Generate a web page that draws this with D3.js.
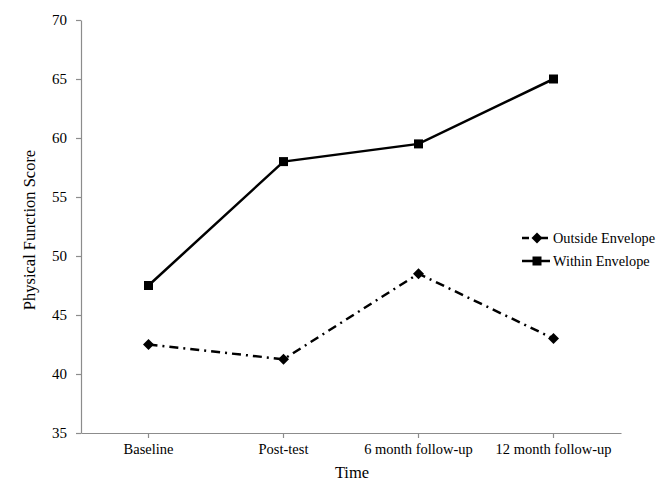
<!DOCTYPE html>
<html>
<head>
<meta charset="utf-8">
<script src="https://cdn.jsdelivr.net/npm/d3@7"></script>
<style>
  body { margin: 0; background: #fff; }
  text { font-family: "Liberation Serif", "Times New Roman", serif; fill: #000; }
</style>
</head>
<body>
<div class="chart"></div>
<script>
var categories = ["Baseline", "Post-test", "6 month follow-up", "12 month follow-up"];
var outsideValues = [42.5, 41.25, 48.5, 43];
var withinValues = [47.5, 58, 59.5, 65];
var yTicks = [35, 40, 45, 50, 55, 60, 65, 70];

var svgWidth = 667;
var svgHeight = 495;
var margin = {top: 20, right: 46, bottom: 62, left: 81};
var width = svgWidth - margin.left - margin.right;
var height = svgHeight - margin.top - margin.bottom;

var svg = d3.select(".chart")
  .append("svg")
  .attr("width", svgWidth)
  .attr("height", svgHeight);

var chartGroup = svg.append("g")
  .attr("transform", `translate(${margin.left},${margin.top})`);

var xScale = d3.scaleBand()
  .domain(categories)
  .range([0, width]);

var yScale = d3.scaleLinear()
  .domain([35, 70])
  .range([height, 0]);

var xc = d => xScale(d) + xScale.bandwidth() / 2;

// axes
var bottomAxis = d3.axisBottom(xScale).tickSize(5).tickPadding(6).tickSizeOuter(0);
var leftAxis = d3.axisLeft(yScale).tickValues(yTicks).tickSize(5).tickPadding(9).tickSizeOuter(0);

var xAxisG = chartGroup.append("g")
  .attr("transform", `translate(0, ${height})`)
  .call(bottomAxis);

var yAxisG = chartGroup.append("g")
  .call(leftAxis);

[xAxisG, yAxisG].forEach(function(g) {
  g.select(".domain").attr("stroke", "#8c8c8c").attr("stroke-width", 1.2);
  g.selectAll(".tick line").attr("stroke", "#8c8c8c").attr("stroke-width", 1.2);
  g.selectAll(".tick text")
    .style("font-family", "'Liberation Serif', 'Times New Roman', serif")
    .style("font-size", "15px")
    .attr("fill", "#000");
});
xAxisG.selectAll(".tick text").style("font-size", "14.5px");

// lines
var line = d3.line()
  .x((d, i) => xc(categories[i]))
  .y(d => yScale(d));

chartGroup.append("path")
  .datum(withinValues)
  .attr("d", line)
  .attr("fill", "none")
  .attr("stroke", "#000")
  .attr("stroke-width", 2.5);

chartGroup.append("path")
  .datum(outsideValues)
  .attr("d", line)
  .attr("fill", "none")
  .attr("stroke", "#000")
  .attr("stroke-width", 2.5)
  .attr("stroke-dasharray", "9,5,2,5");

// markers
chartGroup.selectAll(".sq")
  .data(withinValues)
  .enter()
  .append("rect")
  .attr("x", (d, i) => xc(categories[i]) - 4.5)
  .attr("y", d => yScale(d) - 4.5)
  .attr("width", 9)
  .attr("height", 9)
  .attr("fill", "#000");

var diamond = "M0,-5.5L5.5,0L0,5.5L-5.5,0Z";
chartGroup.selectAll(".dia")
  .data(outsideValues)
  .enter()
  .append("path")
  .attr("d", diamond)
  .attr("transform", (d, i) => `translate(${xc(categories[i])},${yScale(d)})`)
  .attr("fill", "#000");

// legend
var legend = svg.append("g").attr("transform", "translate(522, 238)");
legend.append("line")
  .attr("x1", 0).attr("x2", 28).attr("y1", 0).attr("y2", 0)
  .attr("stroke", "#000").attr("stroke-width", 2.5)
  .attr("stroke-dasharray", "7,5,2,5");
legend.append("path").attr("d", diamond).attr("transform", "translate(15,0)").attr("fill", "#000");
legend.append("text").attr("x", 31).attr("y", 5).style("font-size", "14.3px").text("Outside Envelope");

legend.append("line")
  .attr("x1", 0).attr("x2", 28).attr("y1", 23).attr("y2", 23)
  .attr("stroke", "#000").attr("stroke-width", 2.5);
legend.append("rect").attr("x", 10.5).attr("y", 18.5).attr("width", 9).attr("height", 9).attr("fill", "#000");
legend.append("text").attr("x", 31).attr("y", 28).style("font-size", "14.3px").text("Within Envelope");

// axis labels
chartGroup.append("text")
  .attr("transform", "rotate(-90)")
  .attr("x", 0 - 210)
  .attr("y", 0 - margin.left + 35)
  .attr("text-anchor", "middle")
  .style("font-size", "16.5px")
  .text("Physical Function Score");

chartGroup.append("text")
  .attr("x", 352 - margin.left)
  .attr("y", height + 45)
  .attr("text-anchor", "middle")
  .style("font-size", "16.5px")
  .text("Time");
</script>
</body>
</html>
